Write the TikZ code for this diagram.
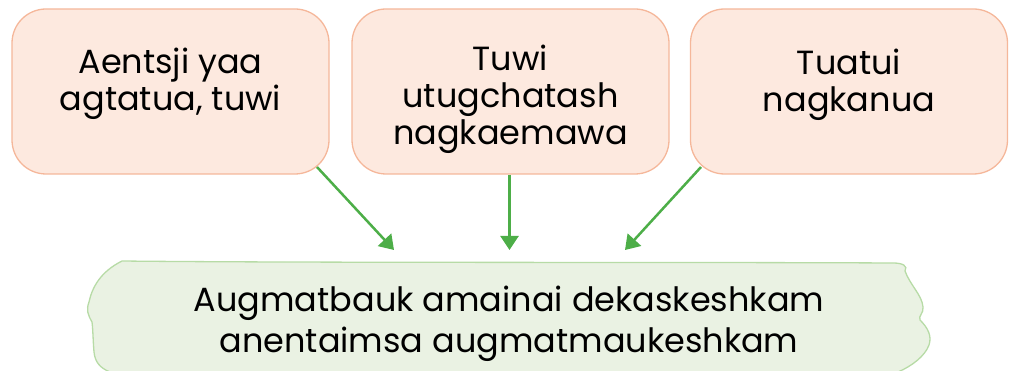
\documentclass[tikz,border=0pt]{standalone}
\usepackage{fontspec}
\setmainfont{Poppins}
\usetikzlibrary{arrows.meta}
\definecolor{peachfill}{HTML}{FDE9DF}
\definecolor{peachline}{HTML}{F5B79A}
\definecolor{greenfill}{HTML}{EAF2E3}
\definecolor{greenline}{HTML}{B7DBA6}
\definecolor{arrowgreen}{HTML}{4DAE48}
\tikzset{
  topbox/.style={draw=peachline, fill=peachfill, line width=1.3pt, rounded corners=34pt,
    minimum width=317pt, minimum height=165pt, inner sep=0pt},
  txt/.style={font=\fontsize{33.5pt}{37pt}\selectfont, align=center, anchor=base, inner sep=0pt},
  btxt/.style={font=\fontsize{33.5pt}{41pt}\selectfont, align=center, anchor=base, inner sep=0pt},
  conn/.style={draw=arrowgreen, line width=2.5pt, -{Triangle[width=18pt,length=14pt]}}
}
\begin{document}
\begin{tikzpicture}[x=1pt,y=-1pt]
\useasboundingbox (0,0) rectangle (1009,371);
% top boxes
\node[topbox] (b1) at (170.5,91.5) {};
\node[topbox] (b2) at (510.5,91.5) {};
\node[topbox] (b3) at (849,91.5) {};
\node[txt] (t1) at (170.5,111) {Aentsji yaa\\agtatua, tuwi};
\node[txt] (t2) at (510.5,145) {Tuwi\\utugchatash\\nagkaemawa};
\node[txt] (t3) at (849,112) {Tuatui\\nagkanua};
% bottom torn-paper box
\draw[draw=greenline, fill=greenfill, line width=1.3pt]
  (122,261) .. controls (300,263) and (700,262) .. (893,263)
  .. controls (903,263) and (908,266) .. (905,271)
  .. controls (910,285) and (922,295) .. (923,307)
  .. controls (924,313) and (918,316) .. (920,320)
  .. controls (928,328) and (932,336) .. (929,345)
  .. controls (925,356) and (912,366) .. (898,372)
  -- (110,372)
  .. controls (100,368) and (95,362) .. (94,352)
  .. controls (93,340) and (93,330) .. (92,322)
  .. controls (88,315) and (86,310) .. (89,302)
  .. controls (92,288) and (100,272) .. (122,261) -- cycle;
\node[btxt] (t4) at (509,352) {Augmatbauk amainai dekaskeshkam\\anentaimsa augmatmaukeshkam};
% connectors
\coordinate (e1) at (394,250);
\coordinate (e2) at (509.5,250);
\coordinate (e3) at (625,250);
\coordinate (s1) at (317,167);
\coordinate (s3) at (701,167);
\draw[conn] (s1) -- (e1);
\draw[conn] (b2.south -| e2) -- (e2);
\draw[conn] (s3) -- (e3);
\end{tikzpicture}
\end{document}
